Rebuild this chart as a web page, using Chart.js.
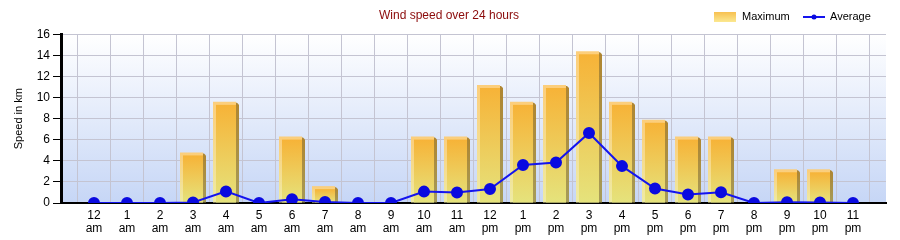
<!DOCTYPE html>
<html>
<head>
<meta charset="utf-8">
<script src="https://cdn.jsdelivr.net/npm/chart.js@4.4.1/dist/chart.umd.min.js"></script>
<style>
  html, body { margin: 0; padding: 0; background: #fff; }
  #wrap { width: 900px; height: 240px; position: relative; }
</style>
</head>
<body>
<div id="wrap"><canvas id="c" width="900" height="240"></canvas></div>
<script>
// ---- data ----
const hourLabels = [
  ['12','am'],['1','am'],['2','am'],['3','am'],['4','am'],['5','am'],
  ['6','am'],['7','am'],['8','am'],['9','am'],['10','am'],['11','am'],
  ['12','pm'],['1','pm'],['2','pm'],['3','pm'],['4','pm'],['5','pm'],
  ['6','pm'],['7','pm'],['8','pm'],['9','pm'],['10','pm'],['11','pm']
];
const maximumValues = [0, 0, 0, 4.8, 9.6, 0, 6.3, 1.6, 0, 0, 6.3, 6.3,
                       11.2, 9.6, 11.2, 14.4, 9.6, 7.9, 6.3, 6.3, 0, 3.2, 3.2, 0];
const averageValues = [0, 0, 0, 0.05, 1.1, 0, 0.35, 0.1, 0, 0, 1.08, 1.0,
                       1.32, 3.6, 3.85, 6.65, 3.5, 1.38, 0.8, 1.02, 0, 0.08, 0.05, 0];
const yTicks = [0, 2, 4, 6, 8, 10, 12, 14, 16];
const titleText = 'Wind speed over 24 hours';
const yTitle = 'Speed in km';

// pad one empty slot on each side so the category axis has a full cell of margin
const labels = [''].concat(hourLabels, ['']);
const pad = arr => [null].concat(arr, [null]);

const FONT = '"Liberation Sans", Arial, sans-serif';

// plot background gradient
const bgPlugin = {
  id: 'plotBg',
  beforeDraw(chart) {
    const {ctx, chartArea: a} = chart;
    const g = ctx.createLinearGradient(0, a.top, 0, a.bottom);
    g.addColorStop(0, '#ffffff');
    g.addColorStop(1, '#c6d6f6');
    ctx.save();
    ctx.fillStyle = g;
    ctx.fillRect(a.left, a.top, a.right - a.left, a.bottom - a.top);
    ctx.restore();
  }
};

// 3D bar drawing using the library's bar elements
const bar3d = {
  id: 'bar3d',
  afterDatasetDraw(chart, args) {
    const ds = chart.data.datasets[args.index];
    if (ds.type !== 'bar') return;
    const ctx = chart.ctx;
    const meta = chart.getDatasetMeta(args.index);
    ctx.save();
    meta.data.forEach(el => {
      const p = el.getProps(['x', 'y', 'base', 'width'], true);
      if (p.y == null || isNaN(p.y) || p.base - p.y < 1) return;
      const x0 = p.x - p.width / 2, x1 = p.x + p.width / 2;
      const top = p.y, bot = p.base;
      const d = 3;
      // light frame (left + top)
      const gl = ctx.createLinearGradient(0, top, 0, bot);
      gl.addColorStop(0, 'rgba(253,204,116,0.95)');
      gl.addColorStop(1, 'rgba(240,236,160,0.95)');
      ctx.fillStyle = gl;
      ctx.beginPath();
      ctx.moveTo(x0, bot);
      ctx.lineTo(x0, top);
      ctx.lineTo(x1 - d, top);
      ctx.lineTo(x1 - d, bot);
      ctx.closePath();
      ctx.fill();
      // front face
      const gf = ctx.createLinearGradient(0, top + d, 0, bot);
      gf.addColorStop(0, 'rgba(246,176,48,0.9)');
      gf.addColorStop(1, 'rgba(228,226,120,0.9)');
      ctx.fillStyle = gf;
      ctx.fillRect(x0 + d, top + d, (x1 - d) - (x0 + d), bot - top - d);
      // dark side
      const gs = ctx.createLinearGradient(0, top, 0, bot);
      gs.addColorStop(0, 'rgba(172,128,38,0.95)');
      gs.addColorStop(1, 'rgba(164,152,80,0.95)');
      ctx.fillStyle = gs;
      ctx.beginPath();
      ctx.moveTo(x1 - d, top + 1);
      ctx.lineTo(x1 - d + 1, top + 1);
      ctx.lineTo(x1, top + d);
      ctx.lineTo(x1, bot);
      ctx.lineTo(x1 - d, bot);
      ctx.closePath();
      ctx.fill();
    });
    ctx.restore();
  }
};

// legend in the title row, right side
const legendRow = {
  id: 'legendRow',
  afterDraw(chart) {
    const ctx = chart.ctx;
    const dsBar = chart.data.datasets.find(d => d.type === 'bar');
    const dsLine = chart.data.datasets.find(d => d.type === 'line');
    ctx.save();
    ctx.font = '11px ' + FONT;
    ctx.textBaseline = 'middle';
    const cy = 17;
    const g = ctx.createLinearGradient(0, 12, 0, 22);
    g.addColorStop(0, '#f7c050');
    g.addColorStop(1, '#fbe890');
    ctx.fillStyle = g;
    ctx.fillRect(714, 12, 22, 10);
    ctx.fillStyle = '#000';
    ctx.fillText(dsBar.label, 742, cy);
    ctx.strokeStyle = dsLine.borderColor;
    ctx.lineWidth = 2;
    ctx.beginPath();
    ctx.moveTo(803, cy);
    ctx.lineTo(825, cy);
    ctx.stroke();
    ctx.fillStyle = dsLine.pointBackgroundColor;
    ctx.beginPath();
    ctx.arc(814, cy, 2.5, 0, Math.PI * 2);
    ctx.fill();
    ctx.fillStyle = '#000';
    ctx.fillText(dsLine.label, 830, cy);
    ctx.restore();
  }
};

new Chart(document.getElementById('c'), {
  data: {
    labels: labels,
    datasets: [
      {
        type: 'line',
        label: 'Average',
        data: pad(averageValues),
        borderColor: '#1414ee',
        backgroundColor: '#0a0ae0',
        pointBackgroundColor: '#0a0ae0',
        pointBorderColor: '#0a0ae0',
        borderWidth: 2,
        pointRadius: 5,
        pointHoverRadius: 5,
        tension: 0,
        order: 1
      },
      {
        type: 'bar',
        label: 'Maximum',
        data: pad(maximumValues),
        backgroundColor: 'rgba(0,0,0,0)',
        borderWidth: 0,
        barThickness: 26,
        order: 2
      }
    ]
  },
  options: {
    responsive: false,
    animation: false,
    devicePixelRatio: 1,
    layout: { padding: { left: 12, right: 14, top: 0, bottom: 2 } },
    plugins: {
      legend: { display: false },
      tooltip: { enabled: false },
      title: {
        display: true,
        text: titleText,
        color: '#8b0a0a',
        font: { family: FONT, size: 12, weight: 'normal', lineHeight: 1.2 },
        padding: { top: 8, bottom: 12 }
      }
    },
    scales: {
      x: {
        type: 'category',
        offset: false,
        grid: { color: '#c4c4d2', drawTicks: false, lineWidth: 1 },
        border: { color: '#000', width: 2 },
        ticks: {
          autoSkip: false, maxRotation: 0, minRotation: 0,
          color: '#000', padding: 6,
          font: { family: FONT, size: 12, lineHeight: 1.1 }
        },
        afterFit(scale) { scale.height = 35; }
      },
      y: {
        min: 0, max: 16,
        afterBuildTicks(scale) { scale.ticks = yTicks.map(v => ({ value: v })); },
        grid: { color: '#c4c4d2', tickColor: '#000', tickLength: 8, lineWidth: 1 },
        border: { color: '#000', width: 3 },
        ticks: {
          color: '#000', padding: 3,
          font: { family: FONT, size: 12 }
        },
        title: {
          display: true, text: yTitle, color: '#000',
          font: { family: FONT, size: 11 },
          padding: { top: 0, bottom: 6 }
        },
        afterFit(scale) { scale.width = 49; }
      }
    }
  },
  plugins: [bgPlugin, bar3d, legendRow]
});
</script>
</body>
</html>
